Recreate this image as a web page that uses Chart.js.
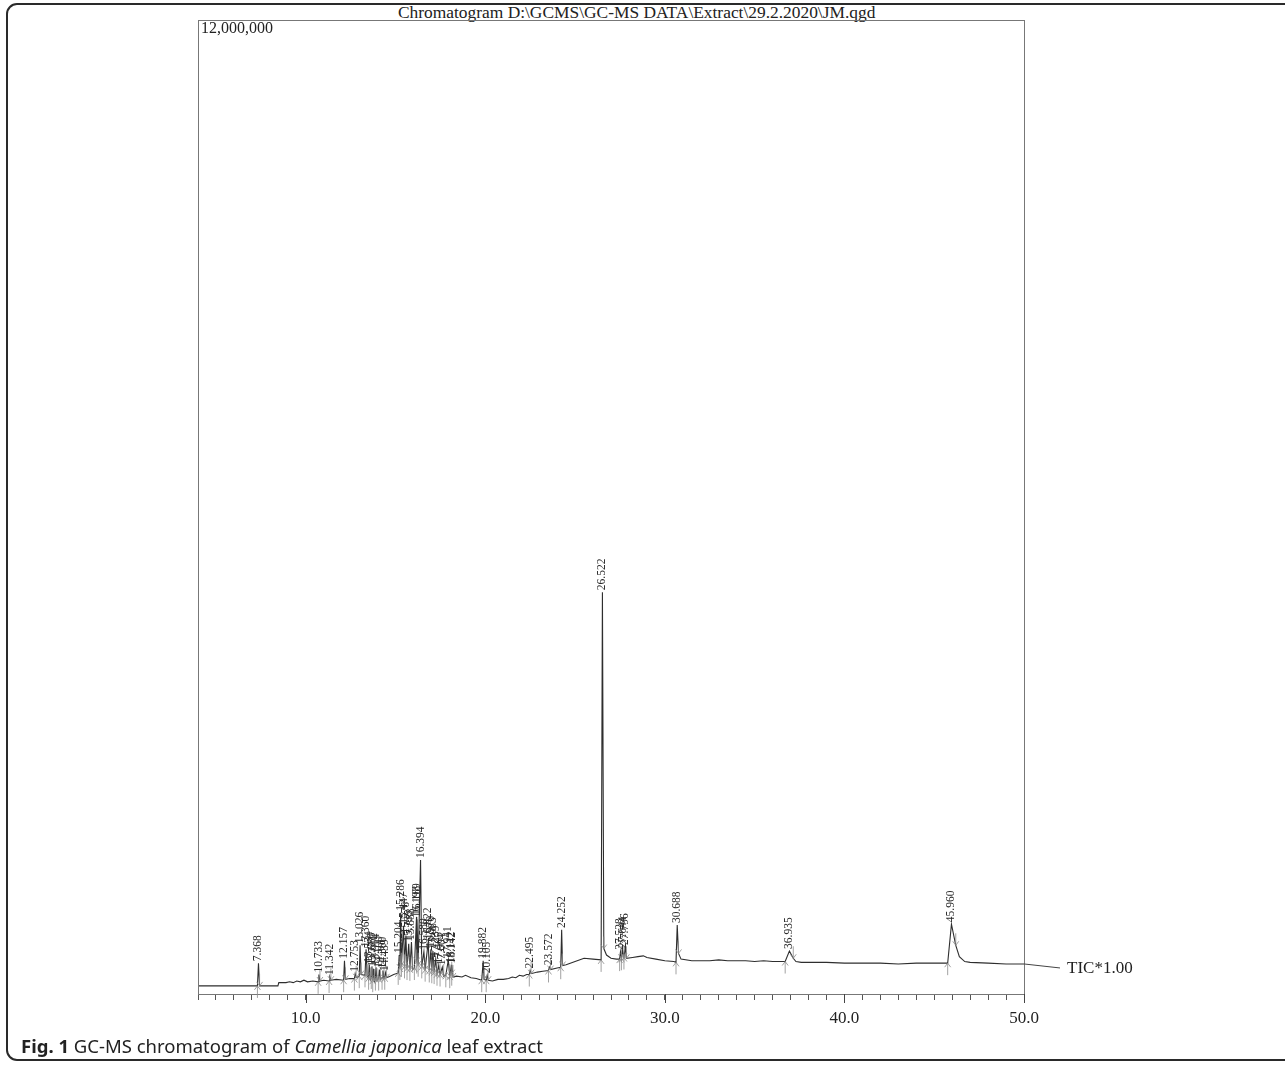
<!DOCTYPE html>
<html>
<head>
<meta charset="utf-8">
<script src="https://cdn.jsdelivr.net/npm/chart.js@4.4.1/dist/chart.umd.min.js"></script>
<style>
  html, body { margin: 0; padding: 0; background: #fff; }
  body { width: 1285px; height: 1065px; position: relative; overflow: hidden; }
  #frame {
    position: absolute; left: 6px; top: 3px; width: 1300px; height: 1058px;
    border: 2px solid #2a2a2a; border-radius: 11px; box-sizing: border-box;
  }
  #title {
    position: absolute; left: 398px; top: 3px; white-space: nowrap;
    font-family: 'Liberation Serif', 'DejaVu Serif', serif; font-size: 17.4px; color: #222;
    line-height: 18px;
  }
  #caption {
    position: absolute; left: 21px; top: 1035px; white-space: nowrap;
    font-family: 'Noto Sans', 'Open Sans', sans-serif; font-size: 18.5px; color: #222;
    line-height: 22px;
  }
  #caption b { font-weight: 700; }
  canvas { position: absolute; left: 0; top: 0; }
</style>
</head>
<body>
<div id="frame"></div>
<div id="title">Chromatogram D:\GCMS\GC-MS DATA\Extract\29.2.2020\JM.qgd</div>
<canvas id="gcms" width="1285" height="1065"></canvas>
<div id="caption"><b>Fig. 1</b> GC-MS chromatogram of <i>Camellia japonica</i> leaf extract</div>
<script>
// retention time (min) and TIC intensity (counts)
const traceTime = [
  4.00, 5.00, 6.00, 7.00, 7.31, 7.368, 7.43, 8.00, 8.45, 8.50, 8.90, 9.10, 9.30, 9.50, 9.70, 9.90,
  10.10, 10.40, 10.69, 10.733, 10.79, 11.00, 11.30, 11.342, 11.40, 11.70, 12.11, 12.157, 12.21,
  12.45, 12.71, 12.753, 12.81, 12.98, 13.026, 13.08, 13.30, 13.360, 13.42, 13.50, 13.534, 13.60,
  13.65, 13.686, 13.73, 13.771, 13.83, 13.88, 13.914, 13.97, 14.06, 14.100, 14.16, 14.25, 14.300,
  14.36, 14.40, 14.439, 14.50, 14.70, 14.90, 15.15, 15.204, 15.24, 15.286, 15.33, 15.447, 15.50,
  15.576, 15.64, 15.735, 15.80, 15.888, 15.95, 16.05, 16.169, 16.18, 16.198, 16.26, 16.394, 16.46,
  16.580, 16.65, 16.822, 16.88, 16.970, 17.02, 17.083, 17.15, 17.239, 17.31, 17.405, 17.48, 17.604,
  17.68, 17.80, 17.941, 18.02, 18.112, 18.13, 18.142, 18.20, 18.40, 18.70, 18.90, 19.20, 19.50,
  19.80, 19.882, 19.93, 20.05, 20.105, 20.16, 20.40, 20.70, 21.00, 21.30, 21.50, 21.70, 21.90,
  22.10, 22.30, 22.45, 22.495, 22.55, 22.90, 23.20, 23.52, 23.572, 23.63, 24.00, 24.20, 24.252,
  24.30, 24.50, 25.00, 25.50, 26.00, 26.45, 26.522, 26.60, 26.75, 27.00, 27.30, 27.48, 27.528,
  27.58, 27.644, 27.72, 27.796, 27.86, 28.20, 28.50, 28.80, 29.00, 29.50, 30.00, 30.50, 30.62,
  30.688, 30.76, 30.90, 31.50, 32.00, 32.50, 33.00, 33.50, 34.00, 34.50, 35.00, 35.50, 36.00,
  36.50, 36.70, 36.935, 37.15, 37.30, 37.60, 38.00, 39.00, 40.00, 41.00, 42.00, 43.00, 44.00,
  45.00, 45.75, 45.960, 46.20, 46.40, 46.70, 47.00, 48.00, 49.00, 50.00
];
const traceSignal = [
  100000, 100000, 100000, 100000, 100000, 380000, 100000, 100000, 100000, 140000, 140000, 150000, 140000, 160000, 150000, 170000,
  150000, 160000, 150000, 240000, 160000, 170000, 160000, 210000, 170000, 180000, 170000, 410000, 180000,
  190000, 190000, 250000, 200000, 220000, 600000, 240000, 230000, 550000, 220000, 200000, 360000, 180000,
  210000, 340000, 170000, 310000, 160000, 190000, 330000, 170000, 190000, 300000, 180000, 200000, 290000,
  190000, 200000, 260000, 200000, 220000, 240000, 260000, 480000, 320000, 1000000, 360000, 840000, 340000,
  720000, 320000, 620000, 310000, 640000, 300000, 320000, 950000, 400000, 920000, 360000, 1650000, 340000,
  520000, 300000, 650000, 290000, 550000, 280000, 530000, 270000, 430000, 250000, 350000, 240000, 330000,
  220000, 230000, 420000, 220000, 360000, 250000, 350000, 210000, 220000, 210000, 230000, 200000, 190000,
  170000, 410000, 180000, 170000, 230000, 170000, 160000, 180000, 180000, 190000, 210000, 200000, 230000,
  220000, 240000, 240000, 290000, 250000, 270000, 280000, 290000, 330000, 300000, 320000, 330000, 790000,
  350000, 360000, 400000, 440000, 430000, 420000, 4950000, 560000, 480000, 440000, 430000, 430000, 520000,
  440000, 540000, 450000, 580000, 440000, 450000, 460000, 470000, 450000, 430000, 410000, 400000, 390000,
  850000, 500000, 430000, 410000, 410000, 410000, 420000, 410000, 410000, 410000, 400000, 410000, 400000,
  400000, 400000, 530000, 440000, 400000, 390000, 390000, 390000, 380000, 380000, 380000, 370000, 380000,
  380000, 380000, 860000, 600000, 460000, 400000, 390000, 380000, 370000, 370000
];
// labelled peaks (retention time, min)
const peakTimes = [
  7.368, 10.733, 11.342, 12.157, 12.753, 13.026, 13.360, 13.534, 13.686, 13.771, 13.914, 14.100, 14.300,
  14.439, 15.204, 15.286, 15.447, 15.576, 15.735, 15.888, 16.169, 16.198, 16.394, 16.580, 16.822,
  16.970, 17.083, 17.239, 17.405, 17.604, 17.941, 18.112, 18.142, 19.882, 20.105, 22.495, 23.572,
  24.252, 26.522, 27.528, 27.644, 27.796, 30.688, 36.935, 45.960
];
const xTickValues = [10, 20, 30, 40, 50];
const xTickLabels = ['10.0', '20.0', '30.0', '40.0', '50.0'];
const yMaxLabel = '12,000,000';
const traceName = 'TIC*1.00';

const SERIF = "'Liberation Serif', 'DejaVu Serif', serif";

const annotations = {
  id: 'annotations',
  afterDraw(chart) {
    const { ctx, chartArea: a, scales: { x, y } } = chart;
    ctx.save();

    // box around the plot
    ctx.strokeStyle = '#777';
    ctx.lineWidth = 1;
    ctx.strokeRect(a.left + 0.5, a.top + 0.5, a.right - a.left, a.bottom - a.top);

    // longer ticks at labelled values
    ctx.strokeStyle = '#444';
    ctx.beginPath();
    xTickValues.forEach(v => {
      const px = Math.round(x.getPixelForValue(v)) + 0.5;
      ctx.moveTo(px, a.bottom);
      ctx.lineTo(px, a.bottom + 9);
    });
    ctx.stroke();

    // full-scale label
    ctx.fillStyle = '#222';
    ctx.font = '16px ' + SERIF;
    ctx.textAlign = 'left';
    ctx.textBaseline = 'middle';
    ctx.fillText(yMaxLabel, a.left + 3, a.top + 9);

    // integration marks and peak labels
    const idxOf = t => traceTime.indexOf(t);
    ctx.strokeStyle = '#8a8a8a';
    ctx.lineWidth = 0.8;
    const arrow = (px, py, dir) => {
      const len = 12;
      ctx.beginPath();
      ctx.moveTo(px, py + dir * len);
      ctx.lineTo(px, py);
      ctx.moveTo(px - 3, py + dir * 4);
      ctx.lineTo(px, py);
      ctx.lineTo(px + 3, py + dir * 4);
      ctx.stroke();
    };
    peakTimes.forEach(t => {
      const i = idxOf(t);
      if (i < 1) return;
      arrow(x.getPixelForValue(traceTime[i - 1]), y.getPixelForValue(traceSignal[i - 1]), 1);
      arrow(x.getPixelForValue(traceTime[i + 1]), y.getPixelForValue(traceSignal[i + 1]), -1);
    });

    ctx.fillStyle = '#2a2a2a';
    ctx.font = '11.5px ' + SERIF;
    ctx.textAlign = 'left';
    ctx.textBaseline = 'middle';
    peakTimes.forEach(t => {
      const i = idxOf(t);
      if (i < 0) return;
      const px = x.getPixelForValue(t);
      const py = y.getPixelForValue(traceSignal[i]);
      ctx.save();
      ctx.translate(px, py - 2);
      ctx.rotate(-Math.PI / 2);
      ctx.fillText(t.toFixed(3), 0, 0);
      ctx.restore();
    });

    // trace name at the right end
    const n = traceTime.length - 1;
    const ex = x.getPixelForValue(traceTime[n]);
    const ey = y.getPixelForValue(traceSignal[n]);
    ctx.strokeStyle = '#444';
    ctx.lineWidth = 1;
    ctx.beginPath();
    ctx.moveTo(ex, ey);
    ctx.lineTo(ex + 36, ey + 4);
    ctx.stroke();
    ctx.fillStyle = '#222';
    ctx.font = '17px ' + SERIF;
    ctx.fillText(traceName, ex + 43, ey + 5);

    ctx.restore();
  }
};

const ctx = document.getElementById('gcms').getContext('2d');
new Chart(ctx, {
  type: 'line',
  data: {
    datasets: [{
      data: traceTime.map((t, i) => ({ x: t, y: traceSignal[i] })),
      borderColor: '#2e2e2e',
      borderWidth: 1.1,
      pointRadius: 0,
      tension: 0,
      fill: false
    }]
  },
  options: {
    responsive: false,
    animation: false,
    events: [],
    layout: { padding: { left: 198, right: 261, top: 20, bottom: 0 } },
    plugins: { legend: { display: false }, tooltip: { enabled: false } },
    scales: {
      x: {
        type: 'linear',
        min: 4,
        max: 50,
        afterFit: s => { s.height = 71; },
        ticks: {
          stepSize: 1,
          autoSkip: false,
          maxRotation: 0,
          padding: 8,
          color: '#222',
          font: { family: SERIF, size: 17 },
          callback: v => {
            const k = xTickValues.indexOf(v);
            return k >= 0 ? xTickLabels[k] : '';
          }
        },
        grid: { drawOnChartArea: false, tickLength: 6, color: '#555' },
        border: { color: '#555' }
      },
      y: { display: false, min: 0, max: 12000000 }
    }
  },
  plugins: [annotations]
});
</script>
</body>
</html>
